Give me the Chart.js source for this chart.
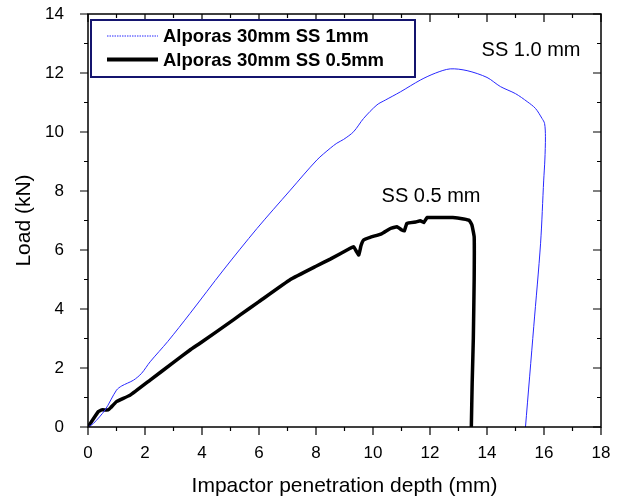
<!DOCTYPE html>
<html>
<head>
<meta charset="utf-8">
<script src="https://cdn.jsdelivr.net/npm/chart.js@4.4.1/dist/chart.umd.min.js"></script>
<style>
html,body{margin:0;padding:0;background:#fff;}
#wrap{width:621px;height:501px;}
</style>
</head>
<body>
<div id="wrap"><canvas id="chart" width="621" height="501"></canvas></div>
<script>
// SS 1mm skin (thin blue)
const thinX = [0, 0.19, 0.6, 1.0, 1.18, 1.6, 1.88, 2.18, 2.8, 3.58, 4.75, 5.93, 7.1, 8.03, 8.5, 8.73, 8.97, 9.32, 9.67, 10.14, 10.43, 10.96, 11.66, 12.2, 12.71, 13.3, 14.0, 14.47, 15.0, 15.41, 15.7, 15.93, 16.02, 16.05, 16.03, 15.99, 15.88, 15.64, 15.35]
const thinY = [0, 0.12, 0.58, 1.25, 1.39, 1.59, 1.82, 2.21, 2.9, 3.85, 5.32, 6.73, 8.03, 9.05, 9.45, 9.62, 9.75, 10.01, 10.46, 10.92, 11.08, 11.36, 11.76, 12.0, 12.14, 12.08, 11.85, 11.54, 11.3, 11.03, 10.8, 10.46, 10.29, 9.84, 9.05, 8.37, 6.23, 3.4, 0]

// SS 0.5mm skin (thick black)
const thickX = [0, 0.36, 0.48, 0.71, 0.8, 1.0, 1.48, 2.18, 3.0, 3.58, 3.93, 5.1, 5.34, 6.0, 7.1, 8.0, 8.5, 9.2, 9.32, 9.42, 9.5, 9.58, 9.67, 9.9, 10.3, 10.61, 10.84, 11.01, 11.1, 11.19, 11.5, 11.66, 11.78, 11.9, 12.4, 12.8, 13.18, 13.38, 13.47, 13.55, 13.55, 13.52, 13.48, 13.45]
const thickY = [0, 0.52, 0.58, 0.58, 0.66, 0.86, 1.08, 1.59, 2.19, 2.61, 2.84, 3.63, 3.8, 4.25, 5.0, 5.45, 5.69, 6.06, 6.11, 5.95, 5.83, 6.15, 6.34, 6.43, 6.55, 6.73, 6.79, 6.68, 6.65, 6.9, 6.95, 6.99, 6.93, 7.1, 7.1, 7.1, 7.05, 7.0, 6.85, 6.45, 5.0, 3.0, 1.5, 0]

const seriesNames = ['Alporas 30mm SS 1mm', 'Alporas 30mm SS 0.5mm']
const xTicks = [0, 2, 4, 6, 8, 10, 12, 14, 16, 18]
const yTicks = [0, 2, 4, 6, 8, 10, 12, 14]

// curve labels, anchored in data units (left edge, middle)
const noteText = ['SS 1.0 mm', 'SS 0.5 mm']
const noteX = [13.81, 10.3]
const noteY = [12.75, 7.8]

const toPts = (xs, ys) => xs.map((x, i) => ({x: x, y: ys[i]}))

const FONT = '"Liberation Sans", Arial, sans-serif'

const extras = {
  id: 'extras',
  afterDraw(chart) {
    const {ctx, chartArea: a, scales: {x, y}} = chart
    ctx.save()
    ctx.strokeStyle = '#000'
    ctx.lineWidth = 1.5
    ctx.strokeRect(a.left, a.top, a.right - a.left, a.bottom - a.top)

    // major + minor ticks, outward on bottom/left, inward on top/right
    ctx.lineWidth = 1.2
    ctx.beginPath()
    for (let v = x.min; v <= x.max; v++) {
      const px = x.getPixelForValue(v)
      const len = v % 2 ? 4 : 8
      ctx.moveTo(px, a.bottom); ctx.lineTo(px, a.bottom + len)
      ctx.moveTo(px, a.top); ctx.lineTo(px, a.top + len)
    }
    for (let v = y.min; v <= y.max; v++) {
      const py = y.getPixelForValue(v)
      const len = v % 2 ? 4 : 8
      ctx.moveTo(a.left, py); ctx.lineTo(a.left - len, py)
      ctx.moveTo(a.right, py); ctx.lineTo(a.right - len, py)
    }
    ctx.stroke()

    // curve notes
    ctx.fillStyle = '#000'
    ctx.font = '20px ' + FONT
    ctx.textAlign = 'left'
    ctx.textBaseline = 'middle'
    noteText.forEach((t, i) => {
      ctx.fillText(t, x.getPixelForValue(noteX[i]), y.getPixelForValue(noteY[i]))
    })

    // legend box
    const lx = a.left + 3, ly = a.top + 6, lw = 324, lh = 57
    ctx.fillStyle = '#fff'
    ctx.fillRect(lx, ly, lw, lh)
    ctx.strokeStyle = '#14146e'
    ctx.lineWidth = 2
    ctx.strokeRect(lx, ly, lw, lh)
    ctx.font = 'bold 18.5px ' + FONT
    chart.data.datasets.forEach((ds, i) => {
      const cy = ly + 16 + i * 23.5
      ctx.save()
      ctx.strokeStyle = ds.borderColor
      ctx.lineWidth = i ? 4 : 1
      if (!i) ctx.setLineDash([1.5, 1])
      ctx.beginPath()
      ctx.moveTo(lx + 16, cy); ctx.lineTo(lx + 67, cy)
      ctx.stroke()
      ctx.restore()
      ctx.fillStyle = '#000'
      ctx.fillText(ds.label, lx + 72, cy + 1)
    })
    ctx.restore()
  }
}

new Chart(document.getElementById('chart'), {
  type: 'scatter',
  data: {
    datasets: [
      {label: seriesNames[0], data: toPts(thinX, thinY), showLine: true, borderColor: 'rgb(40,40,255)', borderWidth: 1, pointRadius: 0, tension: 0.3},
      {label: seriesNames[1], data: toPts(thickX, thickY), showLine: true, borderColor: '#000', borderWidth: 3.5, pointRadius: 0, tension: 0.1}
    ]
  },
  options: {
    responsive: false,
    animation: false,
    layout: {padding: {top: 14, right: 20, bottom: 0, left: 0}},
    plugins: {legend: {display: false}, tooltip: {enabled: false}},
    scales: {
      x: {
        type: 'linear', min: 0, max: 18,
        afterBuildTicks: s => { s.ticks = xTicks.map(v => ({value: v})) },
        afterFit: s => { s.height = 74; s.paddingLeft = 0; s.paddingRight = 0 },
        grid: {display: false},
        border: {display: false},
        ticks: {color: '#000', padding: 8, font: {family: FONT, size: 17}, maxRotation: 0},
        title: {display: true, text: 'Impactor penetration depth (mm)', color: '#000', font: {family: FONT, size: 21}, padding: {top: 0, bottom: 2}}
      },
      y: {
        type: 'linear', min: 0, max: 14,
        afterBuildTicks: s => { s.ticks = yTicks.map(v => ({value: v})) },
        afterFit: s => { s.width = 88; s.paddingTop = 0; s.paddingBottom = 0 },
        grid: {display: false},
        border: {display: false},
        ticks: {color: '#000', padding: 16, font: {family: FONT, size: 17}},
        title: {display: true, text: 'Load (kN)', color: '#000', font: {family: FONT, size: 21}, padding: {top: 12, bottom: 0}}
      }
    }
  },
  plugins: [extras]
})
</script>
</body>
</html>
